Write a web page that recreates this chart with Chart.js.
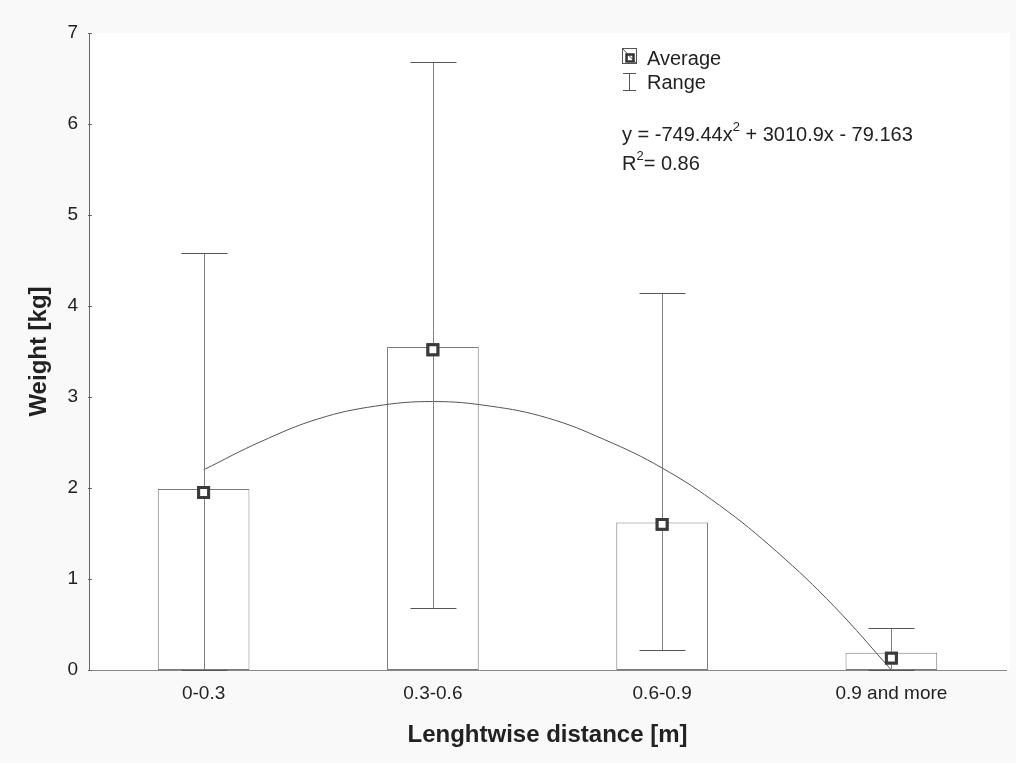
<!doctype html>
<html lang="en">
<head>
<meta charset="UTF-8" />
<title>Weight by lenghtwise distance</title>
<script src="https://cdn.jsdelivr.net/npm/chart.js"></script>
<style>
  html, body { margin: 0; padding: 0; background: #f9f9f9; }
  #wrap { width: 1016px; height: 763px; }
</style>
</head>
<body>
<div id="wrap"><canvas id="chart" width="1016" height="763"></canvas></div>
<script>
const categories = ['0-0.3', '0.3-0.6', '0.6-0.9', '0.9 and more'];
const barHeights = [1.99, 3.55, 1.62, 0.19];
const averages = [1.95, 3.52, 1.60, 0.13];
const rangeLow = [0, 0.68, 0.22, 0];
const rangeHigh = [4.58, 6.68, 4.14, 0.46];
// trend curve at quarter-category steps
const trendX = [0, 0.25, 0.5, 0.75, 1, 1.25, 1.5, 1.75, 2, 2.25, 2.5, 2.75, 3];
const trendY = [2.20, 2.51, 2.76, 2.90, 2.95, 2.90, 2.77, 2.53, 2.22, 1.81, 1.30, 0.70, 0.0];
const yTicks = [0, 1, 2, 3, 4, 5, 6, 7];

const FONT = "'Liberation Sans', Arial, sans-serif";
const TEXT = '#222';

const backdrop = {
  id: 'backdrop',
  beforeDraw(chart) {
    const { ctx, chartArea: a } = chart;
    ctx.save();
    ctx.fillStyle = '#f9f9f9';
    ctx.fillRect(0, 0, chart.width, chart.height);
    ctx.fillStyle = '#ffffff';
    ctx.fillRect(a.left, a.top, a.right - a.left + 4, a.bottom - a.top);
    ctx.restore();
  }
};

const rangeBars = {
  id: 'rangeBars',
  afterDatasetsDraw(chart) {
    const { ctx } = chart;
    const xs = chart.scales.x, ys = chart.scales.y;
    ctx.save();
    categories.forEach((c, i) => {
      const x = Math.round(xs.getPixelForValue(i)) + 0.5;
      const yl = Math.round(ys.getPixelForValue(rangeLow[i])) + 0.5;
      const yh = Math.round(ys.getPixelForValue(rangeHigh[i])) + 0.5;
      ctx.strokeStyle = '#808080';
      ctx.lineWidth = 1;
      ctx.beginPath();
      ctx.moveTo(x, yl); ctx.lineTo(x, yh);
      ctx.stroke();
      ctx.strokeStyle = '#555';
      ctx.beginPath();
      ctx.moveTo(x - 23, yh); ctx.lineTo(x + 23, yh);
      ctx.moveTo(x - 23, yl); ctx.lineTo(x + 23, yl);
      ctx.stroke();
    });
    // markers redrawn on top of the whiskers
    const meta = chart.getDatasetMeta(1);
    meta.data.forEach(p => p.draw(ctx, chart.chartArea));
    ctx.restore();
  }
};

const extras = {
  id: 'extras',
  afterDraw(chart) {
    const { ctx, chartArea: a } = chart;
    const ys = chart.scales.y;
    ctx.save();
    // small inward ticks on the y axis
    ctx.strokeStyle = '#666';
    ctx.lineWidth = 1;
    yTicks.forEach(v => {
      const y = Math.round(ys.getPixelForValue(v)) + 0.5;
      ctx.beginPath();
      ctx.moveTo(a.left - 1, y); ctx.lineTo(a.left + 3, y);
      ctx.stroke();
    });

    // legend
    const lx = 622;
    ctx.strokeStyle = '#555';
    ctx.lineWidth = 1;
    ctx.strokeRect(lx + 0.5, 48.5, 14, 15);
    ctx.beginPath();
    ctx.moveTo(lx + 1, 49); ctx.lineTo(lx + 14, 63);
    ctx.stroke();
    ctx.lineWidth = 2.5;
    ctx.strokeStyle = '#333';
    ctx.strokeRect(lx + 4.5, 54.5, 7, 7);
    ctx.lineWidth = 1;
    ctx.strokeStyle = '#555';
    ctx.beginPath();
    ctx.moveTo(lx + 1, 73.5); ctx.lineTo(lx + 14, 73.5);
    ctx.moveTo(lx + 7.5, 73.5); ctx.lineTo(lx + 7.5, 90.5);
    ctx.moveTo(lx + 1, 90.5); ctx.lineTo(lx + 14, 90.5);
    ctx.stroke();

    ctx.fillStyle = TEXT;
    ctx.textBaseline = 'alphabetic';
    ctx.textAlign = 'left';
    ctx.font = '20px ' + FONT;
    ctx.fillText('Average', 647, 65);
    ctx.fillText('Range', 647, 89);

    // equation with superscripts
    let x = 622;
    const base1 = 141;
    const part = (t, small) => {
      ctx.font = (small ? '13px ' : '20px ') + FONT;
      ctx.fillText(t, x, small ? base1 - 10 : base1);
      x += ctx.measureText(t).width;
    };
    part('y = -749.44x'); part('2', true); part(' + 3010.9x - 79.163');
    x = 622;
    const base2 = 170;
    ctx.font = '20px ' + FONT;
    ctx.fillText('R', x, base2); x += ctx.measureText('R').width;
    ctx.font = '13px ' + FONT;
    ctx.fillText('2', x, base2 - 10); x += ctx.measureText('2').width;
    ctx.font = '20px ' + FONT;
    ctx.fillText('= 0.86', x, base2);
    ctx.restore();
  }
};

new Chart(document.getElementById('chart'), {
  type: 'bar',
  data: {
    labels: categories,
    datasets: [
      {
        type: 'bar',
        data: barHeights,
        backgroundColor: '#ffffff',
        borderColor: '#7a7a7a',
        borderWidth: 1,
        borderSkipped: false,
        grouped: false,
        barPercentage: 0.4,
        categoryPercentage: 1,
        order: 3
      },
      {
        type: 'line',
        data: averages,
        showLine: false,
        pointStyle: 'rect',
        pointRadius: 7,
        pointBorderWidth: 3,
        pointBorderColor: '#3a3a3a',
        pointBackgroundColor: '#ffffff',
        order: 1
      },
      {
        type: 'line',
        xAxisID: 'xt',
        data: trendX.map((v, i) => ({ x: v, y: trendY[i] })),
        borderColor: '#555',
        borderWidth: 1,
        pointRadius: 0,
        tension: 0.4,
        fill: false,
        order: 2
      }
    ]
  },
  options: {
    responsive: false,
    animation: false,
    layout: { padding: { top: 33, right: 8, left: 0, bottom: 0 } },
    plugins: { legend: { display: false }, tooltip: { enabled: false } },
    scales: {
      x: {
        type: 'category',
        offset: true,
        grid: { display: false },
        border: { display: true, color: '#888', width: 1 },
        ticks: { color: TEXT, font: { family: FONT, size: 19 }, padding: 4, maxRotation: 0 },
        title: {
          display: true, text: 'Lenghtwise distance [m]', color: TEXT,
          font: { family: FONT, size: 24, weight: 'bold' }, padding: { top: 0, bottom: 13 }
        },
        afterFit(s) { s.height = 93; }
      },
      xt: {
        type: 'linear', display: false, offset: false, min: -0.5, max: 3.5
      },
      y: {
        min: 0, max: 7,
        grid: { display: false },
        border: { display: true, color: '#666', width: 1 },
        ticks: { stepSize: 1, color: TEXT, font: { family: FONT, size: 19 }, padding: 3 },
        title: {
          display: true, text: 'Weight [kg]', color: TEXT,
          font: { family: FONT, size: 24, weight: 'bold' }, padding: { top: 25, bottom: 0 }
        },
        afterFit(s) { s.width = 89; }
      }
    }
  },
  plugins: [backdrop, rangeBars, extras]
});
</script>
</body>
</html>
